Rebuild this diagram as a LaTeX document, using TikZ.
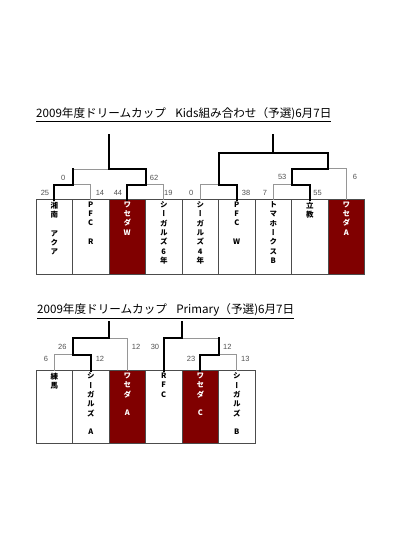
\documentclass[tikz,border=0pt]{standalone}
\usepackage{fontspec}
\usetikzlibrary{positioning}
\newfontfamily\jpfont{Noto Sans CJK JP}
\newfontfamily\jptate{Noto Sans CJK JP}[RawFeature=+vert]
\newfontfamily\zahlfont{Liberation Sans}
\definecolor{weinrot}{RGB}{128,0,0}
\definecolor{hellgrau}{RGB}{150,150,150}
\definecolor{zahlgrau}{RGB}{80,80,80}
\tikzset{
  mannschaft/.style={draw=black!70, line width=0.7pt, fill=white,
    minimum width=36.5pt, minimum height=74.5pt, inner sep=0pt, outer sep=0pt},
  mannschaftrot/.style={mannschaft, fill=weinrot},
  kurz/.style={minimum height=72.5pt},
  namenstext/.style={font=\jptate\bfseries\fontsize{7.5}{9.3}\selectfont,
    align=center, inner sep=0pt},
  namensweiss/.style={namenstext, text=white},
  ergebnis/.style={font=\zahlfont\fontsize{7.5}{8}\selectfont, text=zahlgrau, inner sep=0pt},
  titel/.style={font=\jpfont\fontsize{11.6}{13}\selectfont, inner sep=0pt, anchor=west},
  duenn/.style={hellgrau, line width=0.8pt},
  dick/.style={black, line width=2pt, line cap=rect},
}
\begin{document}
\begin{tikzpicture}[x=1pt, y=-1pt]
\useasboundingbox (0,0) rectangle (420,560);
% Kids:
\node[titel] (titel1) at (36,115) {\underline{2009年度ドリームカップ\hspace{0.8em}Kids組み合わせ（予選)6月7日}};
% Mannschaften oben
\node[mannschaft, anchor=north west] (k1) at (36,199.5) {};
\node[mannschaft, right=0pt of k1] (k2) {};
\node[mannschaftrot, right=0pt of k2] (k3) {};
\node[mannschaft, right=0pt of k3] (k4) {};
\node[mannschaft, right=0pt of k4] (k5) {};
\node[mannschaft, right=0pt of k5] (k6) {};
\node[mannschaft, right=0pt of k6] (k7) {};
\node[mannschaft, right=0pt of k7] (k8) {};
\node[mannschaftrot, right=0pt of k8] (k9) {};
\node[namenstext, below=2pt of k1.north] (n1) {湘\\南\\\mbox{}\\ア\\ク\\ア};
\node[namenstext, below=2pt of k2.north] (n2) {P\\F\\C\\\mbox{}\\R};
\node[namensweiss, below=2pt of k3.north] (n3) {ワ\\セ\\ダ\\W};
\node[namenstext, below=2pt of k4.north] (n4) {シ\\ー\\ガ\\ル\\ズ\\6\\年};
\node[namenstext, below=2pt of k5.north] (n5) {シ\\ー\\ガ\\ル\\ズ\\4\\年};
\node[namenstext, below=2pt of k6.north] (n6) {P\\F\\C\\\mbox{}\\W};
\node[namenstext, below=2pt of k7.north] (n7) {ト\\マ\\ホ\\ー\\ク\\ス\\B};
\node[namenstext, below=2pt of k8.north] (n8) {立\\教};
\node[namensweiss, below=2pt of k9.north] (n9) {ワ\\セ\\ダ\\A};
% Knoten oben
\coordinate (a12) at (72.5,184.5);
\coordinate (a34) at (145.5,184.5);
\coordinate (t1) at (109,169);
\coordinate (t1o) at (109,134.5);
\coordinate (c56) at (218.5,184.5);
\coordinate (c78) at (291.5,184.5);
\coordinate (c789) at (328,168.5);
\coordinate (t2) at (273,152.5);
\coordinate (t2o) at (273,134.5);
% linker Baum
\draw[duenn] (k2.north) |- (a12);
\draw[duenn] (k4.north) |- (a34);
\draw[duenn] (t1) -| (a12);
\draw[dick] (k1.north) |- (a12) -- (a12 |- t1);
\draw[dick] (k3.north) |- (a34) |- (t1) -- (t1o);
% rechter Baum
\draw[duenn] (k5.north) |- (c56);
\draw[duenn] (k7.north) |- (c78);
\draw[duenn] (k9.north) |- (c789);
\draw[dick] (k6.north) |- (c56) |- (t2) -- (t2o);
\draw[dick] (t2) -| (c789);
\draw[dick] (k8.north) |- (c78) |- (c789);
% Ergebnisse oben
\node[ergebnis] (e1) at (45,192.7) {25};
\node[ergebnis] (e2) at (100,192.7) {14};
\node[ergebnis] (e3) at (118,192.7) {44};
\node[ergebnis] (e4) at (168.3,192.7) {19};
\node[ergebnis] (e5) at (63.3,177.5) {0};
\node[ergebnis] (e6) at (154,177.5) {62};
\node[ergebnis] (e7) at (191.3,192.7) {0};
\node[ergebnis] (e8) at (246,192.7) {38};
\node[ergebnis] (e9) at (265,192.7) {7};
\node[ergebnis] (e10) at (317.5,192.7) {55};
\node[ergebnis] (e11) at (282.2,177.3) {53};
\node[ergebnis] (e12) at (355,177.3) {6};
% Primary:
\node[titel] (titel2) at (37,311) {\underline{2009年度ドリームカップ\hspace{0.8em}Primary（予選)6月7日}};
% Mannschaften unten
\node[mannschaft, kurz, anchor=north west] (m1) at (36,370.7) {};
\node[mannschaft, kurz, right=0pt of m1] (m2) {};
\node[mannschaftrot, kurz, right=0pt of m2] (m3) {};
\node[mannschaft, kurz, right=0pt of m3] (m4) {};
\node[mannschaftrot, kurz, right=0pt of m4] (m5) {};
\node[mannschaft, kurz, right=0pt of m5] (m6) {};
\node[namenstext, below=2pt of m1.north] (p1) {練\\馬};
\node[namenstext, below=2pt of m2.north] (p2) {シ\\ー\\ガ\\ル\\ズ\\\mbox{}\\A};
\node[namensweiss, below=2pt of m3.north] (p3) {ワ\\セ\\ダ\\\mbox{}\\A};
\node[namenstext, below=2pt of m4.north] (p4) {R\\F\\C};
\node[namensweiss, below=2pt of m5.north] (p5) {ワ\\セ\\ダ\\\mbox{}\\C};
\node[namenstext, below=2pt of m6.north] (p6) {シ\\ー\\ガ\\ル\\ズ\\\mbox{}\\B};
% Knoten unten
\coordinate (d12) at (72.5,354.5);
\coordinate (u1) at (109,338);
\coordinate (u1o) at (109,321.5);
\coordinate (d56) at (218.5,354.5);
\coordinate (u2) at (182,338);
\coordinate (u2o) at (182,321.5);
% linker Baum
\draw[duenn] (m1.north) |- (d12);
\draw[duenn] (u1) -| (m3.north);
\draw[dick] (m2.north) |- (d12) |- (u1) -- (u1o);
% rechter Baum
\draw[duenn] (m6.north) |- (d56);
\draw[duenn] (u2) -| (d56);
\draw[dick] (m5.north) |- (d56) -- (d56 |- u2);
\draw[dick] (m4.north) |- (u2) -- (u2o);
% Ergebnisse unten
\node[ergebnis] (f1) at (46,359) {6};
\node[ergebnis] (f2) at (100,359) {12};
\node[ergebnis] (f3) at (62.3,347.3) {26};
\node[ergebnis] (f4) at (136,347.3) {12};
\node[ergebnis] (f5) at (155,347.3) {30};
\node[ergebnis] (f6) at (227.3,347.3) {12};
\node[ergebnis] (f7) at (191,359) {23};
\node[ergebnis] (f8) at (245.3,359) {13};
\end{tikzpicture}
\end{document}
